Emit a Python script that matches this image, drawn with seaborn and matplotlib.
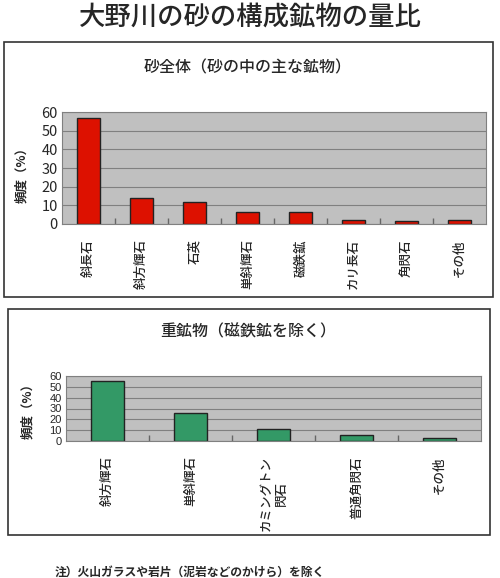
import matplotlib
matplotlib.use("Agg")
import matplotlib.pyplot as plt
from matplotlib.patches import Rectangle
from matplotlib.ticker import MultipleLocator, FixedLocator
import seaborn as sns

# ---- data ----
title = "大野川の砂の構成鉱物の量比"
sub1 = "砂全体（砂の中の主な鉱物）"
cats1 = ["斜長石", "斜方輝石", "石英", "単斜輝石", "磁鉄鉱", "カリ長石", "角閃石", "その他"]
vals1 = [57, 14, 12, 6.5, 6.5, 2, 1.5, 2]
sub2 = "重鉱物（磁鉄鉱を除く）"
cats2 = ["斜方輝石", "単斜輝石", "カミングトン\n閃石", "普通角閃石", "その他"]
vals2 = [55, 26, 11, 6, 2.5]
ylabel = "頻度（%）"
note = "注）火山ガラスや岩片（泥岩などのかけら）を除く"

sns.set_theme(style="white")
plt.rcParams['font.family'] = ['Noto Sans CJK JP', 'DejaVu Sans']

W, H = 500, 578
fig = plt.figure(figsize=(W / 100, H / 100), dpi=100)
fig.patch.set_facecolor("white")


def fx(x):
    return x / W


def fy(y):
    return 1 - y / H


# boxes
for (x0, y0, x1, y1) in [(4, 42, 493, 297), (8, 309, 490, 535)]:
    fig.patches.append(Rectangle((fx(x0), fy(y1)), fx(x1 - x0), (y1 - y0) / H,
                                 transform=fig.transFigure, fill=False,
                                 edgecolor="#333333", linewidth=1.2))

fig.text(0.5, fy(17), title, ha="center", va="center", fontsize=19, fontweight="medium")
fig.text(fx(248), fy(68), sub1, ha="center", va="center", fontsize=11.5, fontweight="medium")
fig.text(fx(248), fy(332), sub2, ha="center", va="center", fontsize=11.5, fontweight="medium")
fig.text(fx(55), fy(572), note, ha="left", va="center", fontsize=8.5, fontweight="bold")


def style_ax(ax, cats, ytick_fs, yfam=None):
    ax.set_facecolor("#C0C0C0")
    ax.set_ylim(0, 60)
    ax.set_xlim(-0.5, len(cats) - 0.5)
    ax.yaxis.set_major_locator(MultipleLocator(10))
    ax.grid(axis="y", color="#808080", linewidth=0.8)
    ax.set_axisbelow(True)
    for s in ax.spines.values():
        s.set_color("#808080")
        s.set_linewidth(0.8)
    ax.tick_params(axis="y", length=0, labelsize=ytick_fs, pad=3)
    if yfam:
        for lab in ax.get_yticklabels():
            lab.set_family(yfam)
    ax.tick_params(axis="x", which="major", length=0, labelsize=9, pad=11, labelrotation=90)
    ax.xaxis.set_minor_locator(FixedLocator([i + 0.5 for i in range(len(cats) - 1)]))
    ax.tick_params(axis="x", which="minor", length=4, direction="in", color="#666666", bottom=True)
    for lab in ax.get_xticklabels():
        lab.set_va("top")
        lab.set_ha("center")
        lab.set_multialignment("center")
        lab.set_fontweight("medium")
    ax.set_xlabel("")
    ax.set_ylabel("")


ax1 = fig.add_axes([fx(62), fy(224), fx(486 - 62), (224 - 112) / H])
sns.barplot(x=cats1, y=vals1, color="#DD1100", saturation=1, width=0.42,
            edgecolor="#222222", linewidth=1, ax=ax1)
style_ax(ax1, cats1, 10.5)
fig.text(fx(22), fy(172), ylabel, rotation=90, ha="center", va="center", fontsize=9, fontweight="bold")

ax2 = fig.add_axes([fx(66), fy(441), fx(481 - 66), (441 - 376) / H])
sns.barplot(x=cats2, y=vals2, color="#339966", saturation=1, width=0.4,
            edgecolor="#222222", linewidth=1, ax=ax2)
style_ax(ax2, cats2, 8, yfam="Liberation Sans")
fig.text(fx(28), fy(408), ylabel, rotation=90, ha="center", va="center", fontsize=9, fontweight="bold")

fig.savefig("out.png", dpi=100, facecolor="white")
